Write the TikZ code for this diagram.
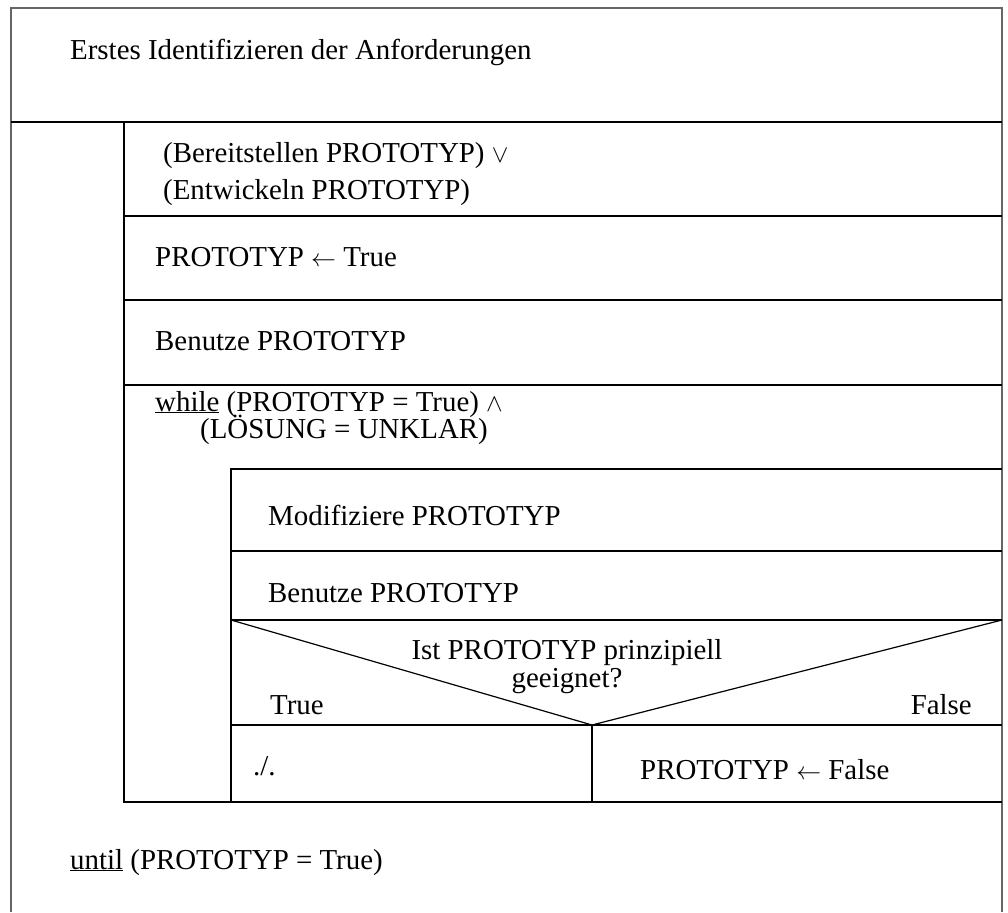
\documentclass[tikz,border=0pt]{standalone}
\usepackage{fontspec}
\setmainfont{Liberation Serif}
\begin{document}
\begin{tikzpicture}[x=1pt, y=-1pt,
txt/.style={anchor=base west, inner sep=0pt, font=\fontsize{28.9}{34}\selectfont},
ln/.style={line width=1.2pt},
frm/.style={line width=1.5pt, draw=black!60}]
\useasboundingbox (0,0) rectangle (1008,912);
% frame and first block
\draw[frm] (11,912) -- (11,8) -- (1002,8) -- (1002,912);
\draw[ln] (11,122) -- (1002,122);
% repeat-until body
\draw[ln] (124,122) -- (124,802) -- (1002,802);
\foreach \y in {216,300,385}
  \draw[ln] (124,\y) -- (1002,\y);
% while body
\draw[ln] (231,802) -- (231,469) -- (1002,469);
\foreach \y in {551,620,725}
  \draw[ln] (231,\y) -- (1002,\y);
% decision
\coordinate (apex) at (592,725);
\draw[ln] (231,620) -- (apex) -- (1002,620);
\draw[ln] (apex) -- (592,802);
%
\node[txt] (req)   at (70,60)   {Erstes Identifizieren der Anforderungen};
\node[txt] (prov1) at (163,163) {(Bereitstellen PROTOTYP) $\vee$};
\node[txt] (prov2) at (163,199) {(Entwickeln PROTOTYP)};
\node[txt] (set)   at (155,266) {PROTOTYP $\leftarrow$ True};
\node[txt] (use1)  at (155,350) {Benutze PROTOTYP};
\node[txt] (cond1) at (155,411) {\underline{while} (PROTOTYP = True) $\wedge$};
\node[txt] (cond2) at (200,438) {(LÖSUNG = UNKLAR)};
\node[txt] (mod)   at (268,525) {Modifiziere PROTOTYP};
\node[txt] (use2)  at (268,602) {Benutze PROTOTYP};
\node[txt, anchor=base] (ask1) at (567,659) {Ist PROTOTYP prinzipiell};
\node[txt, anchor=base] (ask2) at (567,687) {geeignet?};
\node[txt] (yes)   at (270,714) {True};
\node[txt, anchor=base east] (no) at (972,714) {False};
\node[txt] (skip)  at (253,775) {./.};
\node[txt] (reset) at (640,779) {PROTOTYP $\leftarrow$ False};
\node[txt] (until) at (70,869)  {\underline{until} (PROTOTYP = True)};
\end{tikzpicture}
\end{document}
